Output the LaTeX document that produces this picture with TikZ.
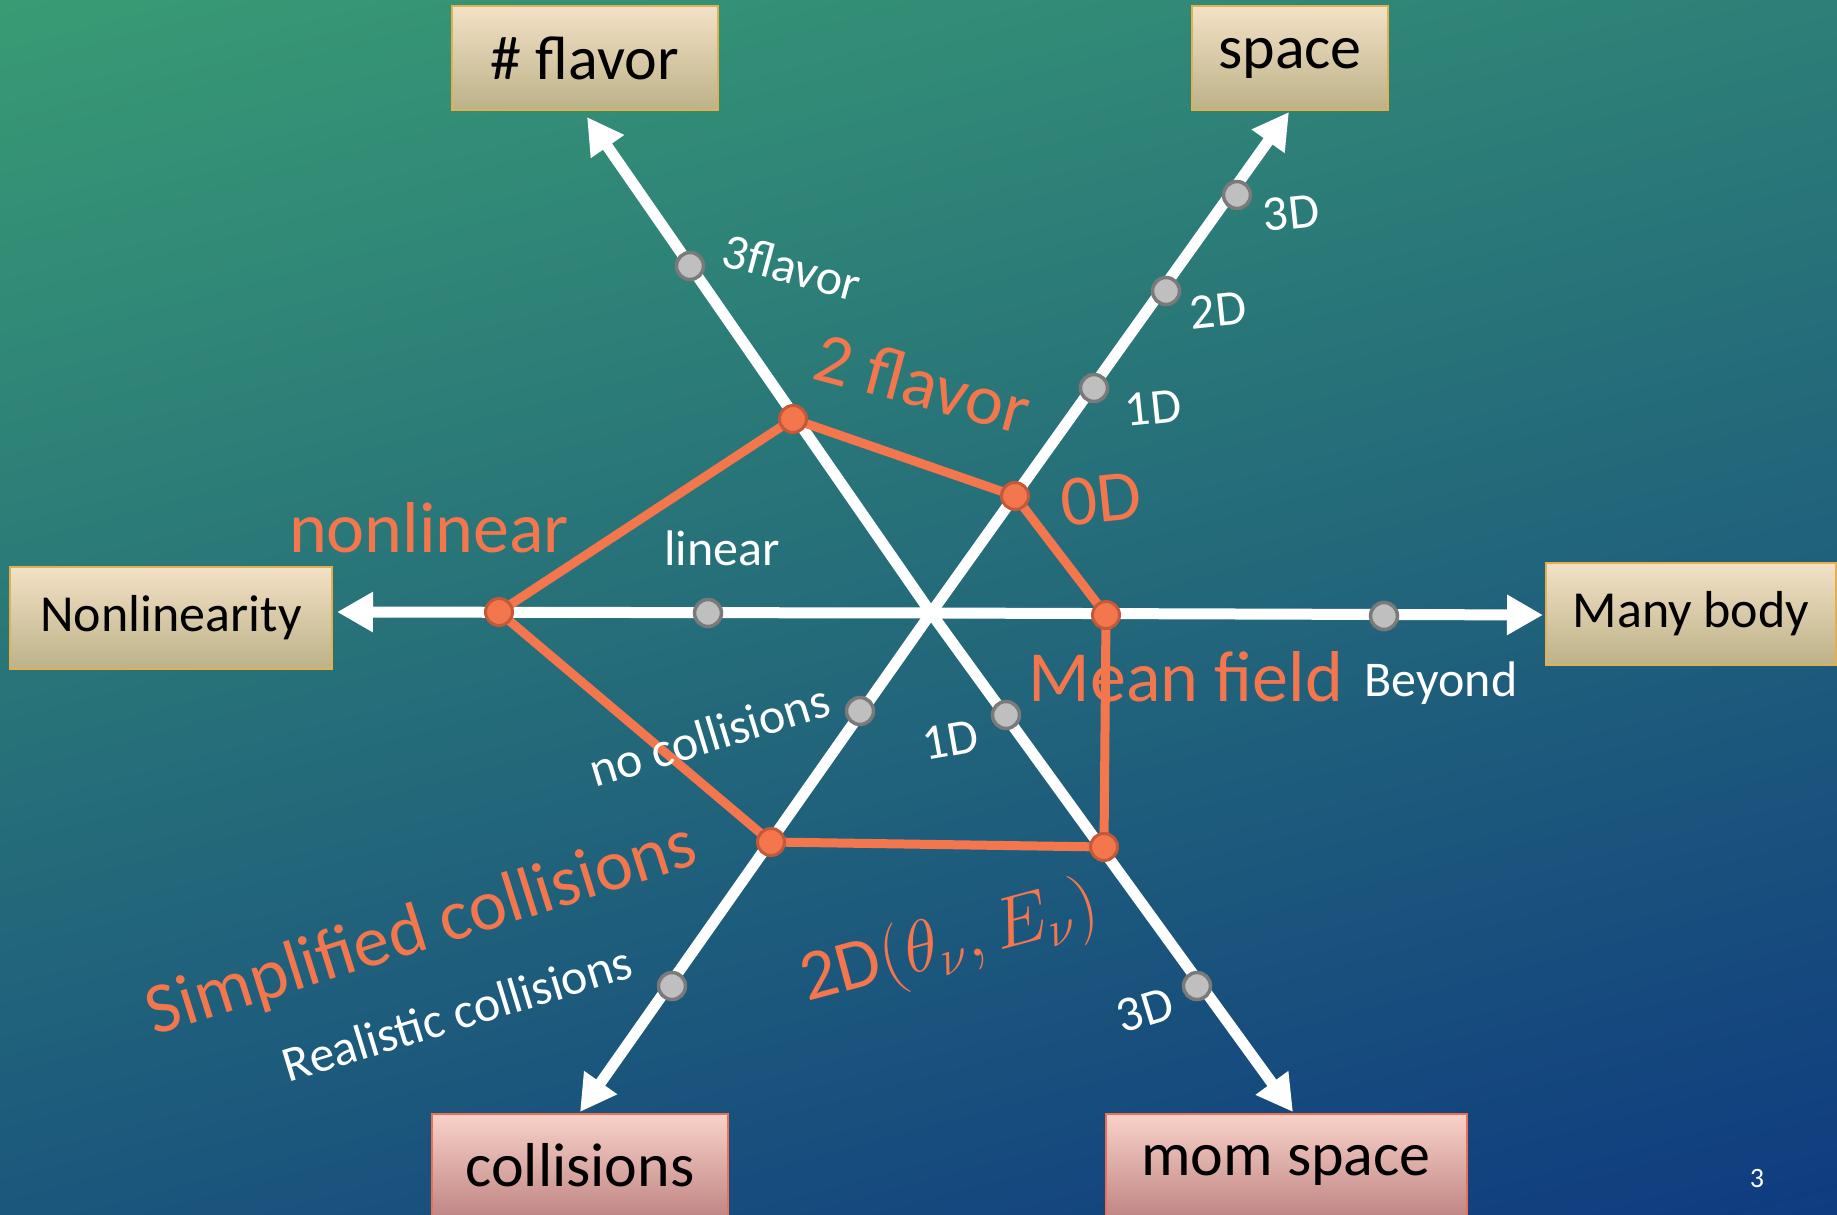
\documentclass[tikz,border=0pt]{standalone}
\usepackage{fix-cm}
\usepackage{fontspec}
\setmainfont{Carlito}
\usetikzlibrary{arrows.meta}
\definecolor{accent}{RGB}{244,118,77}
\definecolor{accentdark}{RGB}{196,88,56}
\definecolor{dotgrey}{RGB}{191,191,191}
\definecolor{dotrim}{RGB}{122,122,122}
\definecolor{tantop}{RGB}{243,225,198}
\definecolor{tanbot}{RGB}{188,178,136}
\definecolor{tanrim}{RGB}{226,176,80}
\definecolor{pinktop}{RGB}{249,210,200}
\definecolor{pinkbot}{RGB}{192,134,133}
\definecolor{pinkrim}{RGB}{238,112,84}
\definecolor{bgtop}{RGB}{58,158,116}
\definecolor{bgmid}{RGB}{40,112,124}
\definecolor{bgbot}{RGB}{14,56,128}

\begin{document}
\begin{tikzpicture}[x=1pt, y=-1pt, every node/.style={inner sep=0pt}, >={Triangle[length=36pt, width=38pt]}, ax/.style={->, draw=white, line width=11pt}, web/.style={draw=accent, line width=9pt, line join=round}, gdot/.style={circle, fill=dotgrey, draw=dotrim, line width=3.5pt, minimum size=27pt}, odot/.style={circle, fill=accent, draw=accentdark, line width=3pt, minimum size=27pt}, tanbox/.style={draw=tanrim, line width=2pt, top color=tantop, bottom color=tanbot, text=black, minimum height=103pt, font=\fontsize{62}{70}\selectfont}, pinkbox/.style={draw=pinkrim, line width=2pt, top color=pinktop, bottom color=pinkbot, text=black, minimum height=103pt, font=\fontsize{62}{70}\selectfont}, lab/.style={text=white, font=\fontsize{50}{60}\selectfont}, big/.style={text=accent, font=\fontsize{72}{80}\selectfont}]
	\useasboundingbox (0,0) rectangle (1837,1215);
	\shade[top color=bgtop, middle color=bgmid, bottom color=bgbot, shading angle=15] (-200,-200) rectangle (2037,1415);
	\coordinate (O) at (931,613);
	\coordinate (tN) at (337,612); \coordinate (tM) at (1543,615); \coordinate (tF) at (587,117);
	\coordinate (tS) at (1289,112); \coordinate (tC) at (580,1112); \coordinate (tP) at (1293,1112);
	\foreach \t in {tN,tM,tF,tS,tC,tP} {\draw[ax] (O) -- (\t);}
	\coordinate (pF) at (793,419); \coordinate (pS) at (1015,496); \coordinate (pM) at (1106,615);
	\coordinate (pP) at (1104,847); \coordinate (pC) at (771,842); \coordinate (pN) at (499,612);
	\draw[web] (pN) -- (pF) -- (pS) -- (pM) -- (pP) -- (pC) -- cycle;
	\foreach \n/\x/\y in {f3/690/266, s3/1237/195, s2/1166/291, s1/1094/388, mb/1384/616, li/708/613, nc/860/711, rc/672/986, p1/1006/715, p3/1197/986} {\node[gdot] (g\n) at (\x,\y) {};}
	\foreach \p in {pF,pS,pM,pP,pC,pN} {\node[odot] (d\p) at (\p) {};}
	\node[tanbox, minimum width=266pt] (flavor) at (585,58) {\# flavor};
	\node[tanbox, minimum width=196pt] (space) at (1290,58) {space};
	\node[tanbox, minimum width=322pt, minimum height=102pt, font=\fontsize{52}{60}\selectfont] (nonlin) at (171,618) {Nonlinearity};
	\node[tanbox, minimum width=290pt, minimum height=102pt, font=\fontsize{52}{60}\selectfont] (many) at (1691,614) {Many body};
	\node[pinkbox, minimum width=296pt] (coll) at (580,1165) {collisions};
	\node[pinkbox, minimum width=361pt] (mom) at (1286,1165) {mom space};
	\node[lab, rotate=-15] (l3f) at (792,267) {3flavor};
	\node[big, rotate=-15] (l2f) at (923,383) {2 flavor};
	\node[lab, rotate=6] (l3d) at (1291,213) {3D};
	\node[lab, rotate=6] (l2d) at (1218,310) {2D};
	\node[lab, rotate=6] (l1d) at (1153,408) {1D};
	\node[big, rotate=6] (l0d) at (1101,499) {0D};
	\node[lab] (llin) at (722,548) {linear};
	\node[big] (lnl) at (429,528) {nonlinear};
	\node[big] (lmf) at (1186,677) {Mean field};
	\node[lab] (lby) at (1441,683) {Beyond};
	\node[lab, rotate=17] (lnc) at (709,735) {no collisions};
	\node[lab, rotate=10] (l1p) at (950,740) {1D};
	\node[big, rotate=17.5] (lsc) at (422,931) {Simplified collisions};
	\node[lab, rotate=17] (lrc) at (457,1013) {Realistic collisions};
	\node[big, rotate=15] (l2p) at (950,945) {2D$(\theta_\nu, E_\nu)$};
	\node[lab, rotate=17] (l3p) at (1145,1010) {3D};
	\node[text=white, font=\fontsize{28}{30}\selectfont] (pg) at (1757,1178) {3};
\end{tikzpicture}
\end{document}
